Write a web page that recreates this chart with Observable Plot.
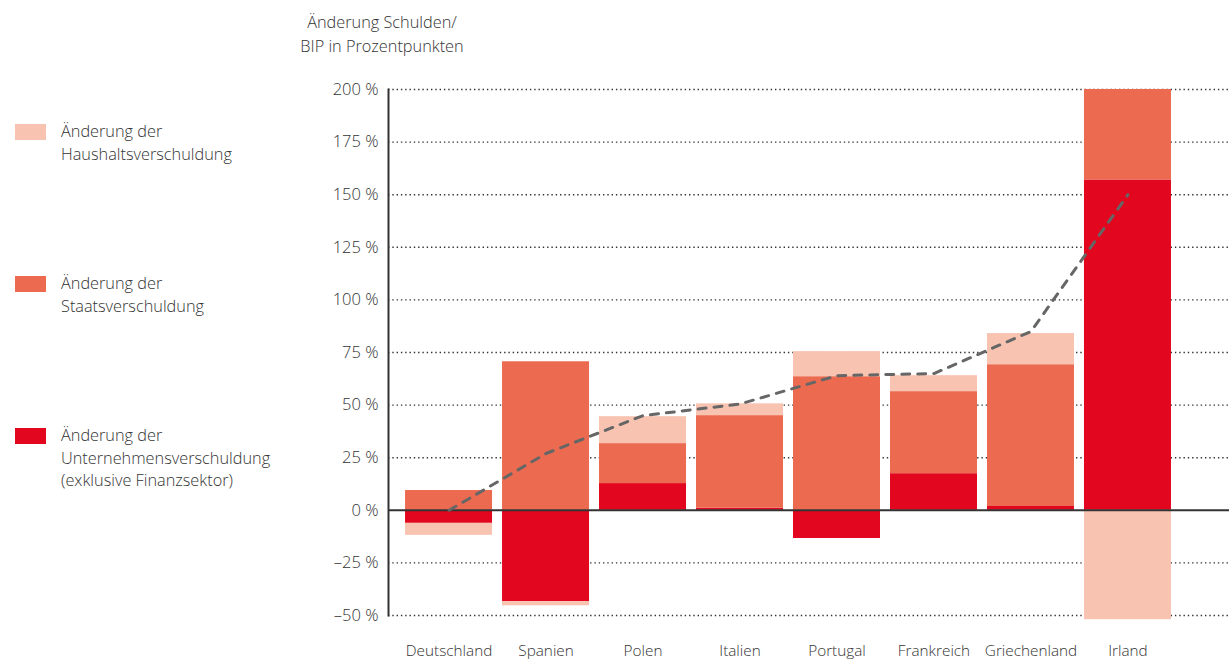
<!DOCTYPE html>
<html>
<head>
<meta charset="utf-8">
<script src="https://cdn.jsdelivr.net/npm/d3@7"></script>
<script src="https://cdn.jsdelivr.net/npm/@observablehq/plot@0.6"></script>
<style>
  html, body { margin: 0; padding: 0; background: #fff; }
  body { width: 1229px; height: 659px; position: relative; overflow: hidden; font-family: "Open Sans", sans-serif; font-weight: 300; color: #333; }
  #chart { position: absolute; left: 0; top: 0; }
  #chart text { font-weight: 300; }
  .title { position: absolute; left: 232px; width: 300px; top: 10px; text-align: center; font-size: 16.3px; line-height: 24px; color: #333; }
  .legend { position: absolute; left: 15px; }
  .legend .sw { position: absolute; left: 0; width: 31px; height: 16px; }
  .legend .lbl { position: absolute; left: 46px; top: -4px; font-size: 16.3px; line-height: 22.5px; white-space: nowrap; color: #333; }
</style>
</head>
<body>
<div id="chart"></div>
<div class="title">Änderung Schulden/<br>BIP in Prozentpunkten</div>
<div id="legend"></div>
<script>
const countries = ["Deutschland", "Spanien", "Polen", "Italien", "Portugal", "Frankreich", "Griechenland", "Irland"];
const corporate = [-6.2, -43.4, 12.7, 1.0, -13.4, 17.4, 1.8, 157];
const government = [9.4, 70.6, 19.0, 44.0, 63.5, 39.0, 67.4, 43];
const household = [-5.7, -2.0, 12.8, 5.6, 11.9, 7.6, 14.8, -52];
const netChange = [0, 27, 45, 50.5, 64, 65, 85, 150];
const sectorNames = [
  "Änderung der Unternehmensverschuldung (exklusive Finanzsektor)",
  "Änderung der Staatsverschuldung",
  "Änderung der Haushaltsverschuldung"
];
const sectorColors = ["#e2061e", "#ec6a50", "#f8c4b1"];
const yTicks = [-50, -25, 0, 25, 50, 75, 100, 125, 150, 175, 200];

const rows = [];
countries.forEach((c, i) => {
  rows.push({country: c, sector: sectorNames[0], value: corporate[i]});
  rows.push({country: c, sector: sectorNames[1], value: government[i]});
  rows.push({country: c, sector: sectorNames[2], value: household[i]});
});
const lineRows = countries.map((c, i) => ({country: c, value: netChange[i]}));

const fmt = d => (d < 0 ? "\u2013" + Math.abs(d) : String(d)) + " %";

const chart = Plot.plot({
  width: 1229,
  height: 659,
  marginLeft: 388,
  marginRight: 0,
  marginTop: 89,
  marginBottom: 44,
  style: {fontFamily: "Open Sans, sans-serif", fontSize: "15px", color: "#333", background: "transparent"},
  x: {domain: countries, paddingInner: 0.103, paddingOuter: 0.387, align: 0.227, round: false, label: null},
  y: {domain: [-50, 200], label: null},
  color: {domain: sectorNames, range: sectorColors},
  marks: [
    Plot.ruleY(yTicks.filter(d => d !== 0), {stroke: "#333", strokeWidth: 1.4, strokeDasharray: "1.4,2.9"}),
    Plot.barY(rows, Plot.stackY({order: sectorNames, x: "country", y: "value", fill: "sector"})),
    Plot.ruleY([0], {stroke: "#333", strokeWidth: 2}),
    Plot.frame({anchor: "left", stroke: "#333", strokeWidth: 2}),
    Plot.line(lineRows, {x: "country", y: "value", stroke: "#666", strokeWidth: 3, strokeDasharray: "8,8", strokeLinecap: "round"}),
    Plot.axisY({ticks: yTicks, tickFormat: fmt, tickSize: 0, tickPadding: 10, fontSize: 16.5, label: null}),
    Plot.axisX({tickSize: 0, tickPadding: 30, fontSize: 15.3, label: null})
  ]
});
document.getElementById("chart").appendChild(chart);

// Legend (HTML, from the same names/colours)
const legendTops = [124, 276, 428];
const legendOrder = [2, 1, 0];
const legendLines = [
  ["Änderung der", "Haushaltsverschuldung"],
  ["Änderung der", "Staatsverschuldung"],
  ["Änderung der", "Unternehmensverschuldung", "(exklusive Finanzsektor)"]
];
const legend = document.getElementById("legend");
legendOrder.forEach((si, k) => {
  const item = document.createElement("div");
  item.className = "legend";
  item.style.top = legendTops[k] + "px";
  const sw = document.createElement("div");
  sw.className = "sw";
  sw.style.background = sectorColors[si];
  const lbl = document.createElement("div");
  lbl.className = "lbl";
  lbl.innerHTML = legendLines[k].join("<br>");
  item.appendChild(sw);
  item.appendChild(lbl);
  legend.appendChild(item);
});
</script>
</body>
</html>
